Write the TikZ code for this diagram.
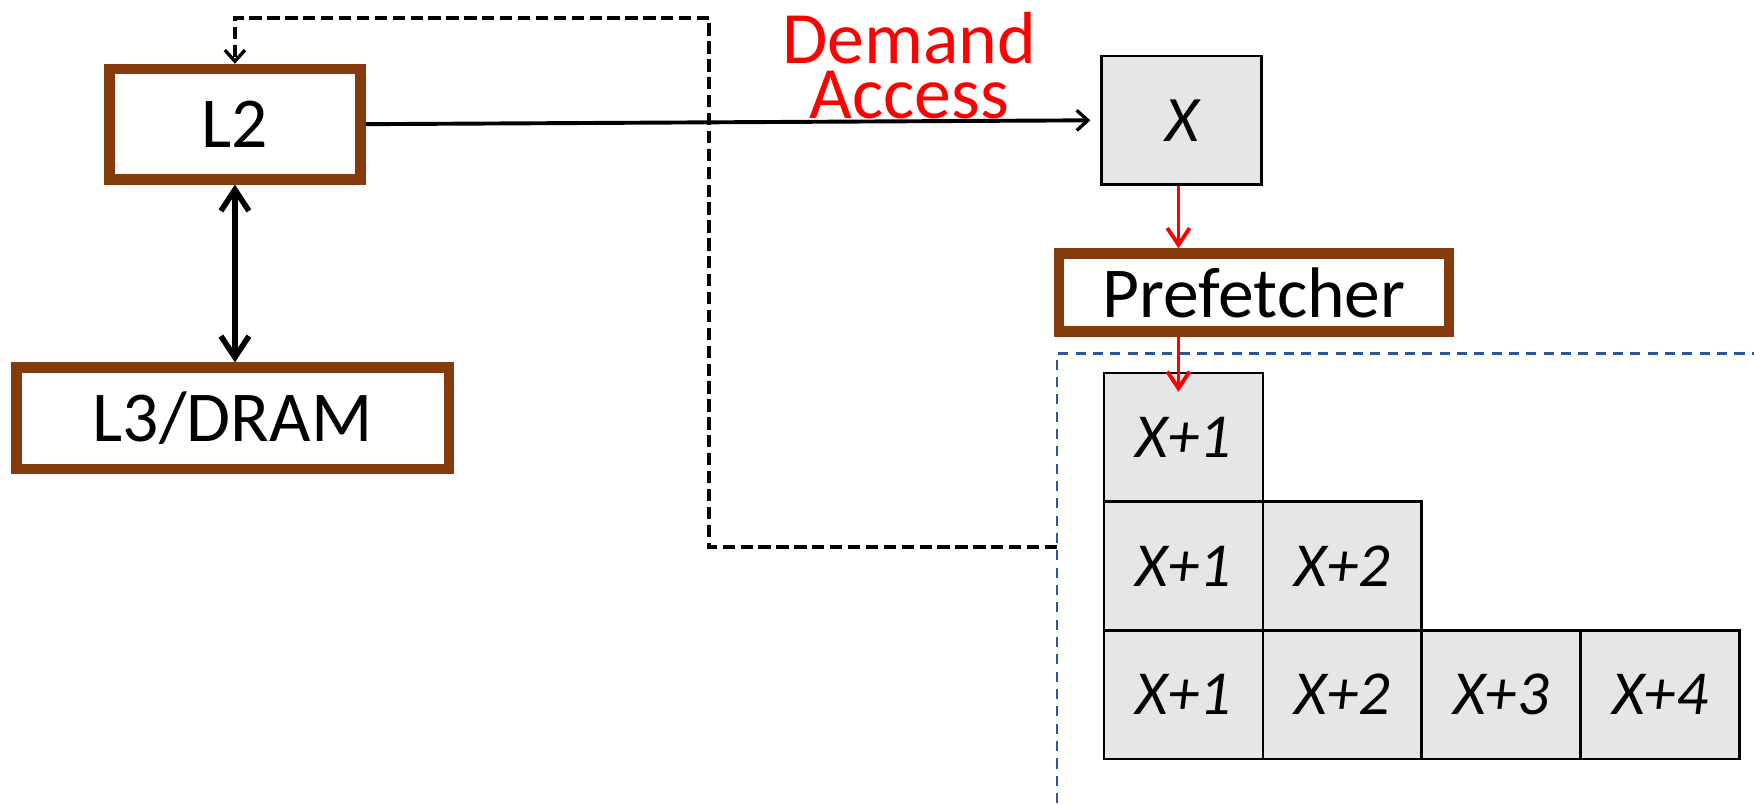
\documentclass[tikz,border=0pt]{standalone}
\usepackage{fontspec}
\setmainfont{Carlito}
\usetikzlibrary{arrows.meta,calc}
\definecolor{brownb}{HTML}{843C0C}
\definecolor{cellgray}{HTML}{E6E6E6}
\definecolor{regionblue}{HTML}{2F5597}
\definecolor{demandred}{HTML}{FF0000}
\tikzset{
  cachebox/.style={draw=brownb, line width=9.5pt, fill=white, inner sep=0pt,
    font=\fontsize{64}{64}\selectfont},
  blockbox/.style={draw=black, line width=2.5pt, fill=cellgray, inner sep=0pt,
    minimum width=142pt, minimum height=115pt,
    font=\fontsize{56}{56}\selectfont\itshape},
  barb/.style={-{Straight Barb[length=10pt,width=18pt,line width=3pt]}},
  redarrow/.style={draw=demandred, line width=3.5pt,
    -{Straight Barb[length=15pt,width=20pt,line width=3.5pt]}},
  dbl/.style={line width=5pt,
    {Straight Barb[length=19pt,width=25pt,line width=5pt]}-{Straight Barb[length=19pt,width=25pt,line width=5pt]}},
  fbdash/.style={line width=3.8pt, dash pattern=on 11pt off 5pt},
  regiondash/.style={draw=regionblue, line width=2.4pt, dash pattern=on 9pt off 6.5pt}
}
\begin{document}
\begin{tikzpicture}[x=1pt,y=-1pt]
\useasboundingbox (0,0) rectangle (1568,718);
% caches
\node[cachebox, minimum width=224.5pt, minimum height=98.5pt] (L2) at (210,111) {L2};
\node[cachebox, minimum width=386.5pt, minimum height=90.5pt] (L3) at (208,374) {L3/DRAM};
% demand access
\node[font=\fontsize{66}{49}\selectfont, text=demandred, align=center, inner sep=0pt] (DA) at (813,59) {Demand\\Access};
\node[blockbox, minimum width=143pt] (X) at (1056.5,107.5) {\fontsize{58}{58}\selectfont X};
\node[cachebox, minimum width=348.5pt, minimum height=69.5pt] (P) at (1121,261.5) {Prefetcher};
% prefetch region
\coordinate (rc) at (945,316);
\draw[regiondash] (945,718) -- (rc) -- (1568,316);
% cells
\node[blockbox] (c11) at (1058,391) {X+1};
\node[blockbox] (c21) at (1058,506) {X+1};
\node[blockbox] (c22) at (1200,506) {X+2};
\node[blockbox] (c31) at (1058,621) {X+1};
\node[blockbox] (c32) at (1200,621) {X+2};
\node[blockbox] (c33) at (1342,621) {X+3};
\node[blockbox] (c34) at (1484,621) {X+4};
% connectors
\draw[line width=3.5pt, barb, shorten >=9pt] (L2.east) -- (X.west);
\draw[dbl] (L2.south) -- (L2.south |- L3.north);
\coordinate (ax) at ([xshift=-3pt]X.south);
\draw[redarrow] (ax) -- (ax |- P.north);
\coordinate (px) at (ax |- P.south);
\draw[redarrow] (px) -- ([yshift=-18pt]px |- c11.north);
\coordinate (fb) at (945,489);
\draw[fbdash, barb] (fb) -- (634,489) -- (634,16) -- (L2.north |- 0,16) -- (L2.north);
\end{tikzpicture}
\end{document}
